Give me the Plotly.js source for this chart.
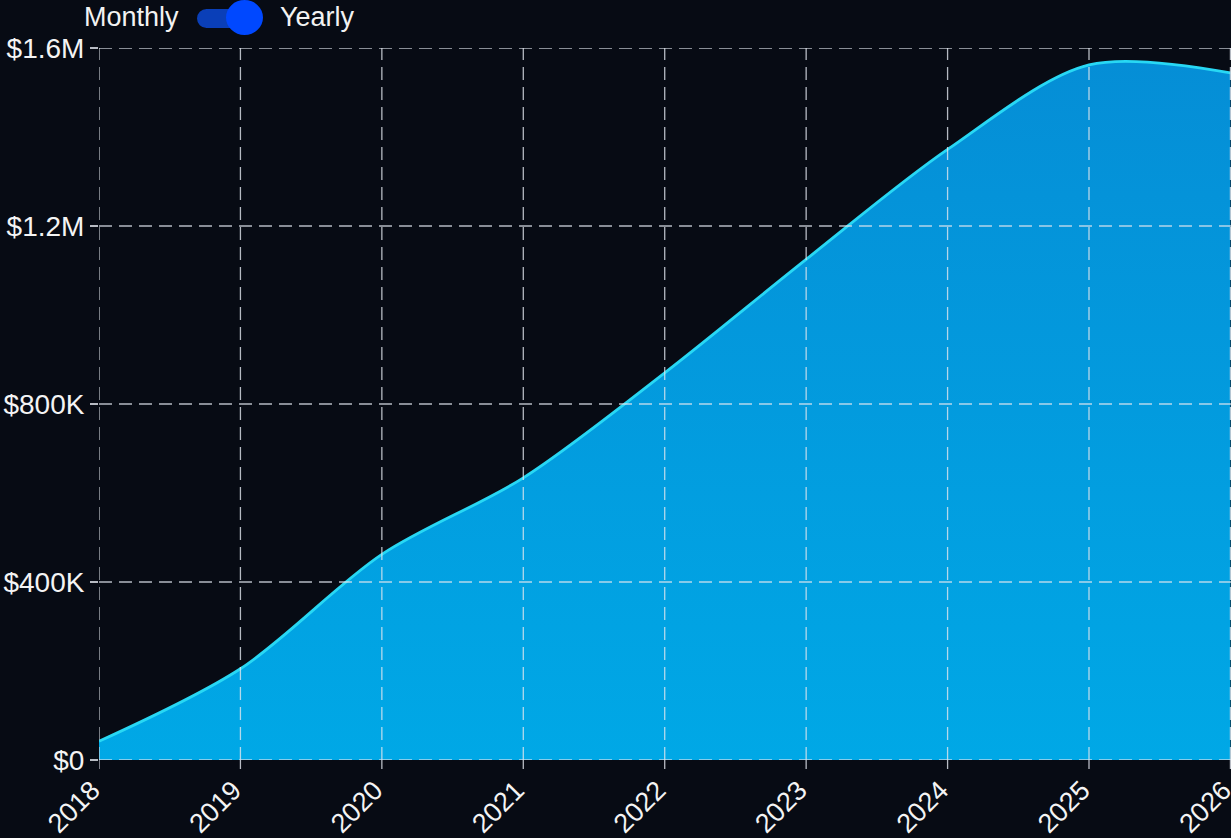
<!DOCTYPE html>
<html>
<head>
<meta charset="utf-8">
<script src="https://cdn.plot.ly/plotly-3.0.1.min.js"></script>
<style>
  html, body { margin: 0; padding: 0; background: #070b14; }
  #chart { width: 1231px; height: 838px; }
</style>
</head>
<body>
<div id="chart"></div>
<script>
// Data
const years = [2018, 2019, 2020, 2021, 2022, 2023, 2024, 2025, 2026];
const revenue = [42000, 205000, 462000, 634000, 870000, 1125000, 1372000, 1562000, 1544000];
const yTickVals = [0, 400000, 800000, 1200000, 1600000];
const yTickText = ['$0', '$400K', '$800K', '$1.2M', '$1.6M'];
const toggleLabels = ['Monthly', 'Yearly'];

const W = 1231, H = 838, ML = 99, MR = 0, MT = 48, MB = 78;
const PW = W - ML - MR, PH = H - MT - MB;
const px = x => (x - ML) / PW;           // pixel -> paper x
const py = y => (H - MB - y) / PH;       // pixel -> paper y

const gridStyle = { color: 'rgba(225,230,238,0.8)', width: 1.3, dash: '13px,7px' };
const tickStyle = { color: '#b8bcc4', width: 1.3 };
const shapes = [];
years.forEach(v => shapes.push({
  type: 'line', xref: 'x', yref: 'paper', x0: v, x1: v, y0: 0, y1: 1,
  line: gridStyle, layer: 'above'
}));
// x tick marks
years.forEach(v => shapes.push({
  type: 'line', xref: 'x', yref: 'paper', x0: v, x1: v, y0: 0, y1: py(769),
  line: tickStyle, layer: 'above'
}));
yTickVals.forEach(v => shapes.push({
  type: 'line', xref: 'paper', yref: 'y', x0: 0, x1: 1, y0: v, y1: v,
  line: gridStyle, layer: 'above'
}));
// toggle switch
shapes.push({ type: 'circle', xref: 'paper', yref: 'paper',
  x0: px(197), x1: px(216), y0: py(28), y1: py(9), fillcolor: '#0a3fb8', line: { width: 0 } });
shapes.push({ type: 'rect', xref: 'paper', yref: 'paper',
  x0: px(206), x1: px(246), y0: py(28), y1: py(9), fillcolor: '#0a3fb8', line: { width: 0 } });
shapes.push({ type: 'circle', xref: 'paper', yref: 'paper',
  x0: px(226), x1: px(263), y0: py(35), y1: py(0), fillcolor: '#0048ff', line: { width: 0 } });

const trace = {
  x: years, y: revenue, type: 'scatter', mode: 'lines',
  line: { color: '#28d8f4', width: 2.8, shape: 'spline', smoothing: 0.9 },
  fill: 'tozeroy',
  fillgradient: {
    type: 'vertical',
    colorscale: [[0, '#00a8e6'], [1, '#058ed6']]
  },
  hoverinfo: 'x+y'
};

const axisFont = { family: 'Liberation Sans, Arial, sans-serif', size: 28, color: '#f4f4f4' };

const layout = {
  width: W, height: H,
  margin: { l: ML, r: MR, t: MT, b: MB, pad: 0 },
  paper_bgcolor: '#070b14',
  plot_bgcolor: '#070b14',
  showlegend: false,
  xaxis: {
    range: [2018, 2026.004], tickvals: years, ticktext: years.map(String),
    tickangle: -45, tickfont: Object.assign({}, axisFont, { size: 27 }), ticklabeloverflow: 'allow',
    ticklabelshift: -7, ticklabelstandoff: 8,
    showgrid: false, zeroline: false, showline: false,
    ticks: ''
  },
  yaxis: {
    range: [0, 1600000], tickvals: yTickVals, ticktext: yTickText,
    tickfont: axisFont,
    showgrid: false, zeroline: false, showline: false,
    ticks: 'outside', ticklen: 8, tickcolor: '#b8bcc4', tickwidth: 1.3
  },
  shapes: shapes,
  annotations: [
    { xref: 'paper', yref: 'paper', x: px(181), y: py(17), xanchor: 'right', yanchor: 'middle',
      text: toggleLabels[0], showarrow: false, font: { family: 'Liberation Sans, Arial, sans-serif', size: 27, color: '#f2f2f2' } },
    { xref: 'paper', yref: 'paper', x: px(278), y: py(17), xanchor: 'left', yanchor: 'middle',
      text: toggleLabels[1], showarrow: false, font: { family: 'Liberation Sans, Arial, sans-serif', size: 27, color: '#f2f2f2' } }
  ]
};

Plotly.newPlot('chart', [trace], layout, { displayModeBar: false, staticPlot: true });
</script>
</body>
</html>
